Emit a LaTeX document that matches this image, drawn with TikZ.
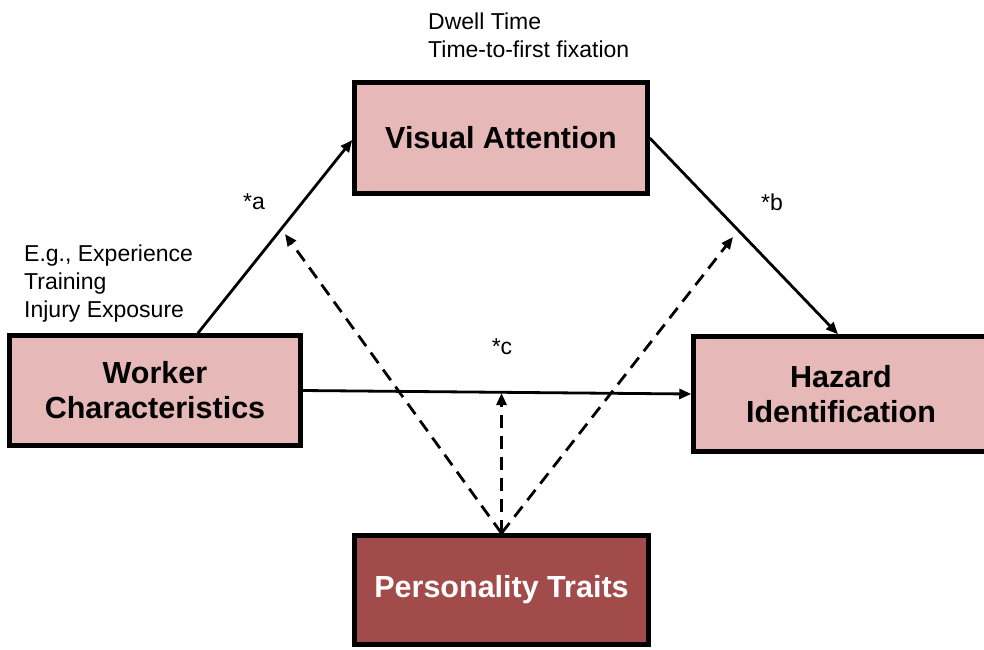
\documentclass[tikz,border=0pt]{standalone}
\usepackage{fontspec}
\setmainfont{Liberation Sans}
\usetikzlibrary{arrows.meta,calc}
\definecolor{boxpink}{HTML}{E6B9B8}
\definecolor{boxred}{HTML}{A14B4A}
\begin{document}
\begin{tikzpicture}[x=1pt,y=-1pt,
  box/.style={draw=black,line width=4.5pt,fill=boxpink,inner sep=0pt,align=center,
    font=\fontsize{30.5}{35}\selectfont\bfseries},
  note/.style={anchor=west,inner sep=0pt,align=left,font=\fontsize{23}{28}\selectfont},
  lbl/.style={inner sep=0pt,font=\fontsize{23}{28}\selectfont},
  conn/.style={line width=2.8pt,-{Triangle[length=12pt,width=10pt]}},
  dconn/.style={line width=2.8pt,dash pattern=on 13pt off 8pt,-{Triangle[length=12pt,width=10pt]}}]
\useasboundingbox (0,0) rectangle (984,649);

\node[box,minimum width=293pt,minimum height=111pt] (VA) at (501,138) {Visual Attention};
\node[box,minimum width=291pt,minimum height=110pt] (W) at (155,390.5) {Worker\\Characteristics};
\node[box,minimum width=295pt,minimum height=115pt] (H) at (841,394) {Hazard\\Identification};
\node[box,fill=boxred,text=white,minimum width=294pt,minimum height=109pt] (P) at (501.5,590) {Personality Traits};

\node[note] (dw) at (428,35) {Dwell Time\\Time-to-first fixation};
\node[note] (eg) at (24,284) {E.g., Experience\\Training\\Injury Exposure};
\node[lbl] (la) at (254,202) {*a};
\node[lbl] (lb) at (772,202) {*b};
\node[lbl] (lc) at (502,347) {*c};

\draw[conn] ($(W.north west)!0.645!(W.north east)$) -- ($(VA.west)+(0,2)$);
\draw[conn] (VA.east) -- ($(H.north)+(-3,0)$);
\draw[conn] (W.east) -- (H.west);

\coordinate (dL) at (285,234);
\coordinate (dR) at (733,237);
\coordinate (dM) at (501.5,393);
\draw[dconn] (P.north) -- (dL);
\draw[dconn] (P.north) -- (dR);
\draw[dconn] (P.north) -- (dM);
\end{tikzpicture}
\end{document}
